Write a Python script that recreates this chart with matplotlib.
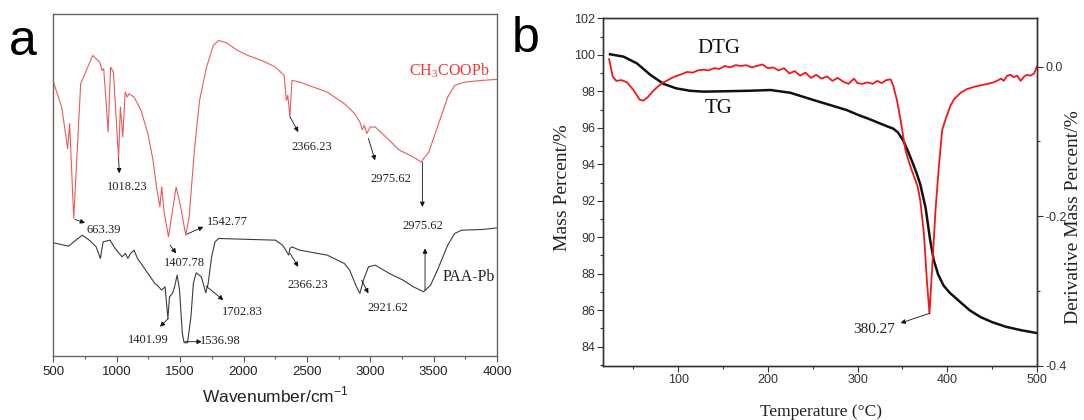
import numpy as np
import matplotlib
matplotlib.use('Agg')
import matplotlib.pyplot as plt
from matplotlib.ticker import MultipleLocator, FormatStrFormatter

plt.rcParams['mathtext.fontset'] = 'custom'
plt.rcParams['mathtext.rm'] = 'Liberation Serif'

SERIF = 'Liberation Serif'
SANS = 'Liberation Sans'

# ---- panel a: FTIR spectra (transmittance, arbitrary units) ----
wn_ac = [500, 565, 612, 628, 660, 715, 810, 865, 884, 897, 932, 951, 973, 1014,
         1028, 1047, 1066, 1082, 1096, 1136, 1191, 1245, 1286, 1313, 1340, 1354,
         1375, 1408, 1436, 1468, 1504, 1544, 1571, 1612, 1653, 1708, 1762, 1803,
         1871, 1952, 2034, 2143, 2252, 2320, 2338, 2349, 2366, 2382, 2442, 2660,
         2795, 2877, 2918, 2937, 2953, 2972, 2999, 3040, 3122, 3231, 3340, 3400,
         3462, 3530, 3611, 3666, 3747, 3883, 4000]
t_ac = [274.3, 249.3, 207.7, 232.7, 137.7, 272.7, 301.0, 294.3, 286.0, 287.7, 224.3,
        289.3, 284.3, 197.7, 249.3, 219.3, 264.3, 259.3, 262.7, 259.3, 246.0, 222.7,
        196.0, 169.3, 149.3, 169.3, 142.7, 119.3, 142.7, 169.3, 149.3, 121.0, 139.3,
        206.0, 256.0, 289.3, 311.0, 316.0, 313.3, 306.0, 301.0, 296.0, 289.3, 281.0,
        256.0, 261.0, 239.3, 276.0, 274.3, 264.3, 252.7, 242.7, 234.3, 226.7, 231.0,
        222.7, 229.3, 229.3, 219.3, 206.0, 199.3, 194.3, 204.3, 229.3, 259.3, 271.0,
        274.3, 276.0, 277.0]

wn_paa = [500, 620, 660, 728, 783, 837, 870, 892, 946, 987, 1041, 1068, 1087, 1109,
          1136, 1163, 1191, 1245, 1300, 1326, 1354, 1381, 1403, 1416, 1427, 1440,
          1456, 1476, 1495, 1517, 1531, 1558, 1585, 1604, 1626, 1667, 1702, 1721,
          1748, 1775, 1803, 1979, 2252, 2307, 2334, 2356, 2366, 2382, 2442, 2660,
          2795, 2837, 2864, 2891, 2918, 2946, 2986, 3040, 3149, 3258, 3340, 3421,
          3476, 3530, 3611, 3666, 3720, 3883, 4000]
t_paa = [113.3, 110.0, 114.3, 121.0, 116.0, 109.3, 97.7, 114.3, 116.0, 107.7, 99.3,
         102.7, 97.7, 102.7, 106.0, 97.7, 92.7, 82.7, 72.7, 70.0, 66.0, 69.3, 37.7,
         59.3, 61.0, 62.7, 69.3, 81.0, 66.0, 22.7, 13.3, 13.3, 39.3, 72.7, 83.3, 79.3,
         63.3, 72.7, 99.3, 114.3, 117.7, 117.0, 116.0, 111.0, 106.0, 101.0, 107.7,
         109.3, 106.0, 101.0, 92.7, 86.0, 77.7, 69.3, 62.7, 76.0, 89.3, 91.0, 82.7,
         76.0, 69.3, 64.3, 71.0, 86.0, 111.0, 122.7, 126.0, 126.7, 128.3]

# peak labels: (text, text x, text y, arrow start x, y, arrow end x, y)
peaks_a = [
    ('663.39', 894, 126, 670, 136.7, 749, 133.3),
    ('1018.23', 1082, 169, 1014, 197.7, 1020, 183),
    ('1542.77', 1872, 134.3, 1552, 122, 1683, 129.3),
    ('1407.78', 1532, 92.7, 1420, 111, 1468, 102.7),
    ('2366.23', 2538, 209.3, 2367, 239.3, 2432, 224.3),
    ('2975.62', 3163, 177.7, 2985, 217.7, 3038, 196),
    ('2975.62', 3415, 130, 3411, 194.3, 3411, 149.3),
    ('2366.23', 2511, 71, 2367, 102.7, 2432, 89.3),
    ('2921.62', 3136, 47.7, 2932, 76, 2985, 62.7),
    ('1702.83', 1994, 44.3, 1704, 70, 1841, 56),
    ('1401.99', 1247, 16, 1407, 37.7, 1341, 29.3),
    ('1536.98', 1820, 15.3, 1538, 14.3, 1670, 14.3),
]
up_arrow = (3432, 66, 3432, 107.7)

# ---- panel b: TG / DTG ----
temp_tg = [24, 39, 54, 69, 84, 98, 113, 128, 150, 180, 203, 225, 251, 288, 300, 312,
           325, 333, 340, 345, 351, 356, 361, 366, 370, 376, 381, 385, 390, 396, 403,
           412, 425, 437, 450, 465, 482, 500]
mass_tg = [100.03, 99.9, 99.53, 98.9, 98.4, 98.16, 98.03, 97.98, 98.0, 98.03, 98.07,
           97.92, 97.52, 96.97, 96.72, 96.5, 96.24, 96.08, 95.95, 95.75, 95.3, 94.75,
           94.14, 93.5, 92.9, 91.6, 89.85, 88.75, 87.95, 87.35, 86.95, 86.56, 86.0,
           85.63, 85.35, 85.1, 84.91, 84.75]

temp_dtg = [23, 27, 31, 37, 43, 50, 57, 61, 66, 71, 76, 82, 87, 93, 98, 104, 110, 116,
            122, 128, 134, 140, 146, 152, 158, 164, 170, 176, 182, 188, 194, 200, 206,
            212, 218, 224, 230, 236, 242, 248, 254, 260, 266, 272, 278, 284, 290, 296,
            300, 305, 311, 317, 322, 327, 332, 337, 340, 344, 348, 353.5, 358, 363, 367,
            370, 374, 377.6, 380.27, 383.3, 387, 390.7, 394.4, 398, 403.7, 408, 415, 422,
            430, 437, 445, 452, 457, 460, 463, 467, 471, 474, 478, 482, 486, 489, 493,
            497, 500]
dtg = [0.010, -0.013, -0.019, -0.018, -0.021, -0.031, -0.044, -0.0455, -0.041, -0.034,
       -0.028, -0.022, -0.019, -0.015, -0.0125, -0.010, -0.007, -0.008, -0.005, -0.004,
       -0.005, -0.002, -0.003, 0.001, -0.001, 0.002, 0.001, 0.002, -0.001, 0.001, 0.003,
       -0.002, -0.001, -0.005, -0.002, -0.009, -0.006, -0.012, -0.008, -0.015, -0.011,
       -0.016, -0.013, -0.019, -0.015, -0.020, -0.023, -0.016, -0.022, -0.023, -0.021,
       -0.023, -0.019, -0.022, -0.018, -0.017, -0.026, -0.045, -0.071, -0.112, -0.130,
       -0.147, -0.160, -0.179, -0.223, -0.290, -0.330, -0.268, -0.192, -0.134, -0.085,
       -0.071, -0.052, -0.043, -0.035, -0.030, -0.027, -0.025, -0.023, -0.021, -0.018,
       -0.016, -0.019, -0.012, -0.011, -0.014, -0.012, -0.019, -0.013, -0.011, -0.012,
       -0.009, 0.000]


def style_ticks(ax, size, color):
    for lab in ax.get_xticklabels() + ax.get_yticklabels():
        lab.set_fontfamily(SANS)
        lab.set_fontsize(size)
        lab.set_color(color)


def panel_a(fig):
    ax = fig.add_axes([0.0493, 0.1524, 0.4092, 0.8131])
    ax.plot(wn_ac, t_ac, color='#ec5a5c', lw=0.8)
    ax.plot(wn_paa, t_paa, color='#3c3c3c', lw=0.8)
    ax.set_xlim(500, 4000)
    ax.set_ylim(0, 342)
    ax.set_yticks([])
    ax.xaxis.set_major_locator(MultipleLocator(500))
    ax.xaxis.set_minor_locator(MultipleLocator(250))
    ax.tick_params(axis='x', which='major', direction='out', length=4, width=0.8,
                   color='#555', pad=3)
    ax.tick_params(axis='x', which='minor', direction='out', length=2.5, width=0.8,
                   color='#555')
    for s in ax.spines.values():
        s.set_color('#666')
        s.set_linewidth(1.0)
    style_ticks(ax, 9.5, '#222')
    ax.set_xlabel(r'Wavenumber/cm$^{\mathregular{-1}}$', fontfamily=SANS,
                  fontsize=12.5, color='#222', labelpad=5)

    arrow = dict(arrowstyle='-|>', color='#111', lw=0.6, mutation_scale=7,
                 shrinkA=0, shrinkB=0)
    for txt, tx, ty, x0, y0, x1, y1 in peaks_a:
        ax.text(tx, ty, txt, fontfamily=SERIF, fontsize=9, color='#222',
                ha='center', va='center')
        ax.annotate('', xy=(x1, y1), xytext=(x0, y0), arrowprops=arrow)
    ax.annotate('', xy=up_arrow[2:], xytext=up_arrow[:2], arrowprops=arrow)

    ax.text(3625, 286, r'CH$_{3}$COOPb', fontfamily=SERIF, fontsize=11.5,
            color='#e8383c', ha='center', va='center')
    ax.text(3780, 79.3, 'PAA-Pb', fontfamily=SERIF, fontsize=11.5, color='#222',
            ha='center', va='center')
    return ax


def panel_b(fig):
    ax = fig.add_axes([0.5567, 0.1293, 0.3998, 0.8271])
    ax.plot(temp_tg, mass_tg, color='#111', lw=1.8, zorder=3)
    ax.set_xlim(16.7, 500)
    ax.set_ylim(82.96, 102)
    ax.xaxis.set_major_locator(MultipleLocator(100))
    ax.xaxis.set_minor_locator(MultipleLocator(50))
    ax.yaxis.set_major_locator(MultipleLocator(2))
    ax.yaxis.set_minor_locator(MultipleLocator(1))
    ax.tick_params(which='major', direction='out', length=4, width=0.8, color='#333',
                   pad=2)
    ax.tick_params(which='minor', direction='out', length=2.5, width=0.8, color='#333')
    style_ticks(ax, 9, '#333')

    ax2 = ax.twinx()
    ax2.plot(temp_dtg, dtg, color='#f01818', lw=1.3, zorder=2)
    ax2.set_ylim(-0.4, 0.0647)
    ax2.set_yticks([-0.4, -0.2, 0.0])
    ax2.yaxis.set_minor_locator(MultipleLocator(0.1))
    ax2.yaxis.set_major_formatter(FormatStrFormatter('%.1f'))
    ax2.tick_params(which='major', direction='out', length=4, width=0.8, color='#333',
                    pad=2)
    ax2.tick_params(which='minor', direction='out', length=2.5, width=0.8, color='#333')
    style_ticks(ax2, 9, '#333')
    for a in (ax, ax2):
        for s in a.spines.values():
            s.set_color('#333')
            s.set_linewidth(1.0)

    ax.text(145, 100.36, 'DTG', fontfamily=SERIF, fontsize=15, color='#111',
            ha='center', va='center')
    ax.text(145, 97.07, 'TG', fontfamily=SERIF, fontsize=15, color='#111',
            ha='center', va='center')
    ax2.text(319, -0.352, '380.27', fontfamily=SERIF, fontsize=11, color='#222',
             ha='center', va='center')
    ax2.annotate('', xy=(348, -0.343), xytext=(380.27, -0.330),
                 arrowprops=dict(arrowstyle='-|>', color='#111', lw=0.6,
                                 mutation_scale=7, shrinkA=0, shrinkB=0))

    fig.text(562.6 / 1084, 1 - 188 / 420, 'Mass Percent/%', fontfamily=SERIF,
             fontsize=14, color='#222', rotation=90, ha='center', va='center')
    fig.text(1074 / 1084, 1 - 217 / 420, 'Derivative Mass Percent/%', fontfamily=SERIF,
             fontsize=14, color='#222', rotation=90, ha='center', va='center')
    fig.text(821 / 1084, 1 - 412 / 420, 'Temperature (\u00b0C)', fontfamily=SERIF,
             fontsize=12.5, color='#222', ha='center', va='center')
    return ax


def main():
    fig = plt.figure(figsize=(10.84, 4.2), dpi=100)
    panel_a(fig)
    panel_b(fig)
    fig.text(9 / 1084, 1 - 55 / 420, 'a', fontfamily=SANS, fontsize=36,
             ha='left', va='baseline')
    fig.text(512 / 1084, 1 - 52 / 420, 'b', fontfamily=SANS, fontsize=36,
             ha='left', va='baseline')
    fig.savefig('out.png', dpi=100)


if __name__ == '__main__':
    main()
